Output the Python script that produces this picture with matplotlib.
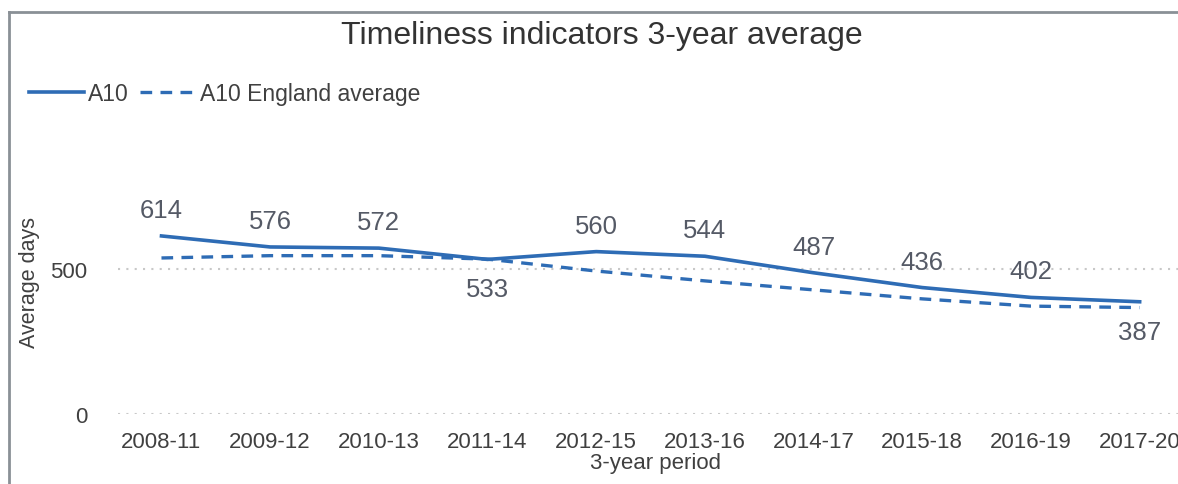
import matplotlib
matplotlib.use("Agg")
import matplotlib.pyplot as plt
from matplotlib.lines import Line2D

plt.rcParams['font.family'] = ['Liberation Sans', 'DejaVu Sans']

# data
periods = ['2008-11', '2009-12', '2010-13', '2011-14', '2012-15',
           '2013-16', '2014-17', '2015-18', '2016-19', '2017-20']
a10 = [614, 576, 572, 533, 560, 544, 487, 436, 402, 387]
england = [538, 546, 546, 534, 493, 459, 428, 397, 372, 367]
below = [False, False, False, True, False, False, False, False, False, True]

blue = '#2e6cb5'
grey = '#404040'

fig = plt.figure(figsize=(11.78, 4.85), dpi=100)
ax = fig.add_axes([118 / 1178, 70 / 485, 1076 / 1178, 290 / 485])

x = list(range(len(periods)))
ax.plot(x, a10, color=blue, lw=2.6, label='A10')
ax.plot(x, england, color=blue, lw=2.4, ls=(0, (3.5, 2.5)), label='A10 England average')

# data labels
for i, v in enumerate(a10):
    off = -30 if below[i] else 26
    ax.annotate(str(v), (i, v), xytext=(0, off), textcoords='offset pixels',
                ha='center', va='center', fontsize=18.5, color='#555a66')

ax.set_xlim(-0.4, 9.5)
ax.set_ylim(0, 1000)
ax.set_yticks([0, 500])
ax.set_xticks(x)
ax.set_xticklabels(periods)
ax.tick_params(axis='both', length=0, labelsize=16, colors=grey)
ax.tick_params(axis='y', pad=22)
ax.tick_params(axis='x', pad=12)
for s in ax.spines.values():
    s.set_visible(False)
ax.grid(axis='y', color='#c8c8c8', ls=(0, (1, 3)), lw=1.5)

ax.set_xlabel('3-year period', fontsize=16, color=grey, labelpad=0)
fig.text(30 / 1178, 1 - 283 / 485, 'Average days', rotation=90, ha='center',
         va='center', fontsize=15.5, color=grey)

fig.text(602 / 1178, 1 - 36 / 485, 'Timeliness indicators 3-year average',
         ha='center', va='center', fontsize=23, color='#333333')

ax.legend(loc='upper left', bbox_to_anchor=(8 / 1178, 1 - 62 / 485),
          bbox_transform=fig.transFigure, ncol=2, frameon=False,
          fontsize=16.5, handlelength=2.4, handletextpad=0.2, columnspacing=0.5,
          labelcolor=grey)

# outer frame
fig.add_artist(Line2D([9 / 1178, 9 / 1178], [0, 1 - 13 / 485], transform=fig.transFigure,
                      color='#8a9096', lw=2))
fig.add_artist(Line2D([9 / 1178, 1], [1 - 13 / 485, 1 - 13 / 485], transform=fig.transFigure,
                      color='#8a9096', lw=2))

fig.savefig('out.png', dpi=100)
